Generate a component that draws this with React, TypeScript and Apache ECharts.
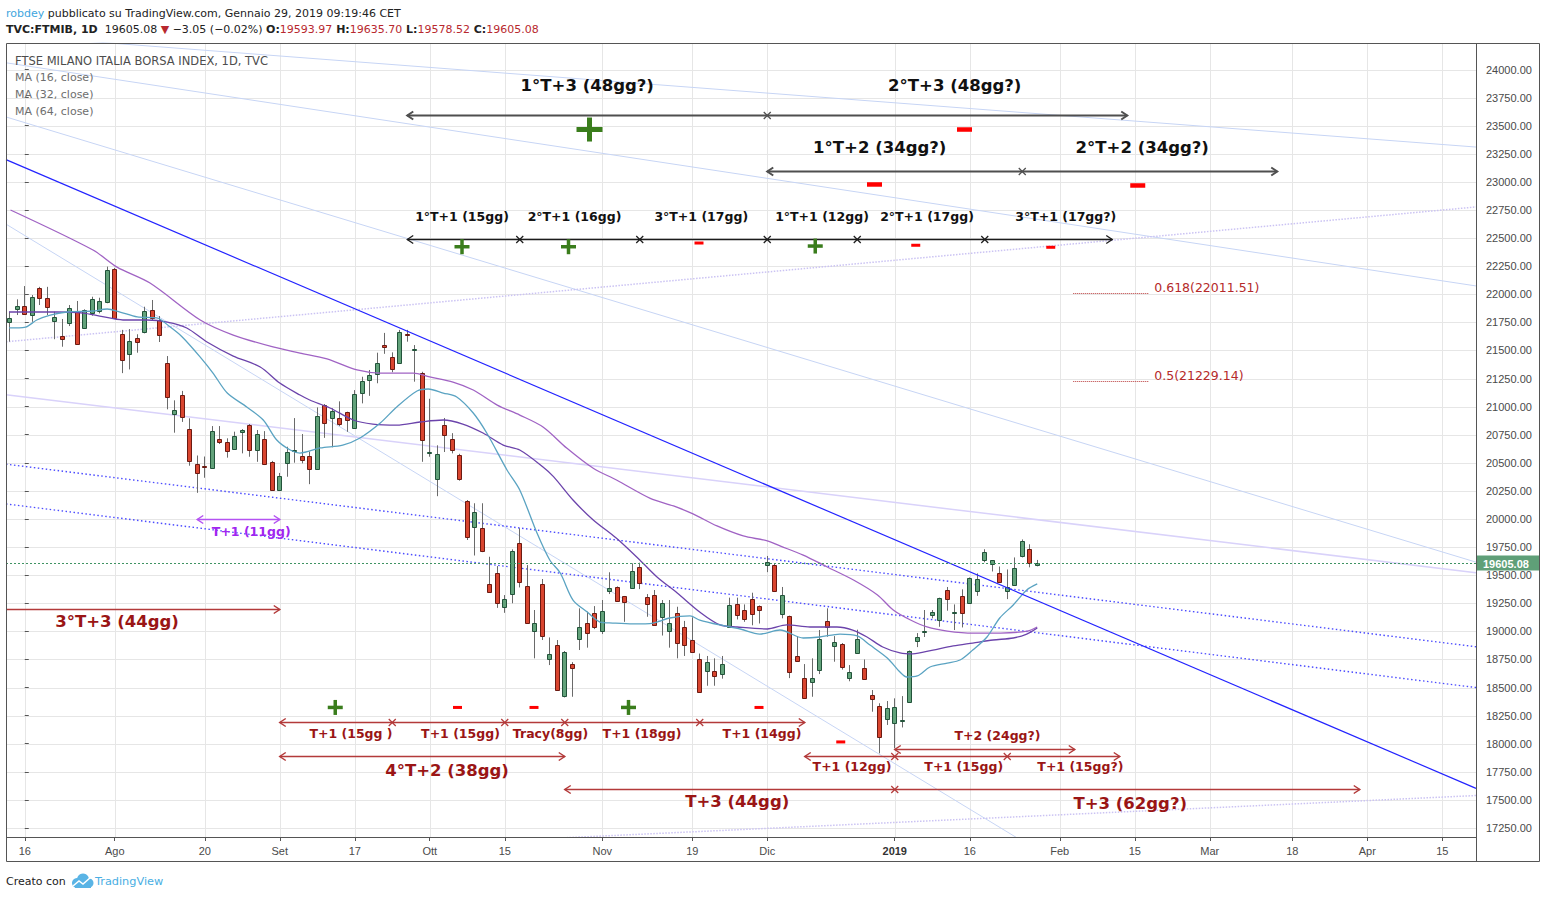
import React, { useEffect, useRef } from "react";
import * as echarts from "echarts";

// ================= DATA =================
// trading-day index: 0 = 16 Jul 2018 (one category per session, holidays skipped)
const FIRST_DAY = -2;
// [open, close, low, high]
const candles: number[][] = [
  [21750, 21786, 21578, 21845], [21871, 21892, 21815, 21955], [21892, 21821, 21815, 22073], [21813, 21973, 21755, 21993],
  [22057, 21969, 21904, 22066], [21964, 21884, 21815, 22066], [21759, 21795, 21600, 21845], [21626, 21600, 21533, 21780],
  [21741, 21875, 21717, 21904], [21842, 21555, 21550, 21940], [21702, 21857, 21691, 21866], [21830, 21955, 21809, 21978],
  [21854, 21940, 21830, 21969], [21928, 22213, 21920, 22246], [22222, 21785, 21780, 22235], [21644, 21412, 21298, 21683],
  [21470, 21586, 21331, 21690], [21608, 21573, 21480, 21644], [21661, 21848, 21652, 21889], [21857, 21785, 21769, 21949],
  [21769, 21635, 21575, 21806], [21385, 21082, 20976, 21450], [20937, 20967, 20768, 21056], [21101, 20905, 20864, 21140],
  [20797, 20518, 20474, 20896], [20487, 20407, 20233, 20565], [20470, 20460, 20367, 20556], [20451, 20780, 20445, 20827],
  [20709, 20687, 20667, 20827], [20683, 20603, 20546, 20718], [20620, 20738, 20615, 20777], [20777, 20792, 20584, 20800],
  [20836, 20611, 20554, 20845], [20611, 20753, 20509, 20792], [20716, 20487, 20480, 20782], [20505, 20262, 20250, 20517],
  [20262, 20387, 20250, 20410], [20501, 20594, 20376, 20643], [20605, 20614, 20501, 20898], [20561, 20522, 20495, 20756],
  [20561, 20442, 20310, 20600], [20442, 20913, 20440, 20993], [21011, 20851, 20722, 21023], [20896, 20958, 20638, 20985],
  [20896, 20843, 20827, 21047], [20950, 20878, 20776, 20955], [20812, 21109, 20809, 21147], [21118, 21225, 21029, 21266],
  [21234, 21279, 21096, 21326], [21288, 21386, 21208, 21480], [21548, 21535, 21470, 21656], [21439, 21332, 21306, 21483],
  [21385, 21661, 21380, 21683], [21650, 21640, 21578, 21683], [21505, 21515, 21222, 21548], [21297, 20706, 20509, 21310],
  [20587, 20597, 20554, 21070], [20354, 20577, 20203, 20656], [20839, 20750, 20596, 20899], [20710, 20611, 20584, 20764],
  [20568, 20359, 20341, 20580], [20163, 19842, 19813, 20169], [19928, 20061, 19675, 20140], [19916, 19711, 19705, 20140],
  [19419, 19348, 19345, 19664], [19516, 19250, 19209, 19581], [19214, 19285, 19165, 19323], [19329, 19715, 19250, 19730],
  [19785, 19443, 19391, 19918], [19404, 19077, 19070, 19590], [19006, 19072, 18760, 19190], [19419, 18961, 18923, 19466],
  [18757, 18796, 18700, 18946], [18876, 18475, 18470, 18923], [18426, 18813, 18412, 18825], [18714, 18675, 18418, 18726],
  [18928, 19035, 18834, 19205], [19071, 18988, 18855, 19175], [19160, 19041, 19020, 19225], [19006, 19178, 18976, 19279],
  [19362, 19383, 19332, 19526], [19391, 19273, 19262, 19400], [19311, 19264, 19085, 19315], [19383, 19537, 19380, 19605],
  [19570, 19428, 19376, 19611], [19303, 19246, 19130, 19332], [19321, 19054, 19050, 19368], [19124, 19252, 18963, 19279],
  [19006, 19071, 18855, 19279], [19160, 18899, 18760, 19219], [19035, 18875, 18781, 19093], [18919, 18813, 18808, 19125],
  [18750, 18462, 18453, 18803], [18643, 18723, 18516, 18781], [18643, 18600, 18516, 18760], [18619, 18707, 18579, 18781],
  [19035, 19231, 19030, 19300], [19240, 19142, 19106, 19300], [19187, 19106, 19085, 19240], [19285, 19151, 19054, 19344],
  [19222, 19187, 19070, 19231], [19594, 19621, 19527, 19671], [19594, 19355, 19350, 19600], [19155, 19323, 19116, 19395],
  [19137, 18637, 18584, 19140], [18779, 18734, 18730, 18958], [18584, 18404, 18400, 18709], [18549, 18584, 18418, 18760],
  [18656, 18932, 18620, 19012], [19092, 19041, 18952, 19205], [18866, 18901, 18730, 18958], [18892, 18686, 18660, 18896],
  [18584, 18637, 18556, 18700], [18805, 18932, 18800, 19015], [18670, 18572, 18570, 18750], [18431, 18395, 18285, 18478],
  [18333, 18057, 17915, 18360], [18218, 18315, 18167, 18380], [18183, 18324, 17959, 18404], [18200, 18210, 18145, 18424],
  [18369, 18823, 18365, 18830], [18914, 18950, 18860, 18985], [18990, 19007, 18950, 19190], [19142, 19169, 19116, 19190],
  [19098, 19294, 19041, 19300], [19365, 19285, 19184, 19395], [19165, 19172, 19012, 19240], [19311, 19160, 19035, 19374],
  [19250, 19472, 19245, 19480], [19355, 19463, 19316, 19516], [19632, 19704, 19615, 19731], [19599, 19632, 19533, 19635],
  [19516, 19436, 19430, 19577], [19355, 19399, 19287, 19551], [19409, 19560, 19405, 19658], [19668, 19800, 19658, 19818],
  [19731, 19608.13, 19570, 19775], [19593.97, 19605.08, 19578.52, 19635.7],
];

// moving averages: [day, value]
const ma16Points: number[][] = [
  [-2.1, 21700], [0.1, 21708], [1.6, 21771], [3.4, 21815], [5.6, 21842], [9.1, 21851], [11.0, 21869], [12.7, 21842],
  [15.0, 21798], [17.6, 21789], [19.4, 21708], [21.0, 21620], [23.4, 21441], [25.1, 21299], [27.0, 21121], [29.6, 20997],
  [31.8, 20881], [33.6, 20703], [35.4, 20614], [36.7, 20587], [39.4, 20632], [42.4, 20658], [44.7, 20721], [47.4, 20854],
  [49.6, 20997], [52.3, 21139], [53.8, 21157], [55.8, 21121], [57.6, 21086], [59.8, 20943], [61.6, 20765], [64.3, 20436],
  [66.0, 20258], [68.3, 19875], [70.0, 19635], [71.4, 19519], [73.1, 19279], [75.0, 19172], [76.7, 19083], [78.4, 19074],
  [81.1, 19066], [83.8, 19074], [86.0, 19119], [88.7, 19137], [90.0, 19101], [92.7, 19057], [95.4, 19021], [98.0, 18976],
  [100.7, 19012], [103.8, 18941], [106.0, 18950], [108.7, 18976], [111.0, 18959], [112.7, 18878], [115.0, 18763],
  [116.7, 18638], [117.6, 18594], [119.0, 18603], [120.7, 18683], [123.0, 18718], [124.7, 18745], [126.4, 18834],
  [128.3, 18950], [130.0, 19119], [131.8, 19235], [133.6, 19368], [135.0, 19422],
];
const ma32Points: number[][] = [
  [-2.1, 21842], [4.3, 21842], [7.8, 21833], [10.0, 21806], [13.1, 21771], [16.3, 21771], [19.0, 21753], [21.6, 21700],
  [24.3, 21575], [27.8, 21450], [31.4, 21353], [34.0, 21210], [36.7, 21103], [38.0, 21059], [40.7, 20988], [43.8, 20881],
  [46.4, 20845], [49.6, 20836], [52.7, 20863], [55.8, 20881], [58.4, 20845], [61.1, 20765], [63.8, 20658], [66.0, 20614],
  [69.1, 20463], [70.5, 20377], [73.1, 20169], [75.8, 19991], [78.9, 19828], [82.0, 19635], [84.3, 19484], [87.0, 19341],
  [90.0, 19172], [92.7, 19057], [95.0, 19039], [99.0, 19021], [101.6, 19057], [104.7, 19039], [108.3, 19039],
  [110.4, 19012], [112.3, 18950], [114.4, 18861], [116.7, 18808], [118.4, 18799], [121.1, 18834], [123.8, 18870],
  [126.4, 18896], [129.1, 18923], [131.8, 18941], [133.6, 18976], [135.0, 19030],
];
const ma64Points: number[][] = [
  [-1.9, 22750], [9.1, 22394], [12.3, 22242], [16.7, 22100], [23.4, 21771], [27.8, 21637], [33.1, 21531], [36.7, 21477],
  [40.3, 21424], [44.3, 21326], [47.4, 21299], [51.8, 21299], [54.0, 21264], [57.1, 21219], [59.8, 21148], [63.0, 21014],
  [66.0, 20925], [69.1, 20819], [72.3, 20629], [75.8, 20451], [78.9, 20347], [83.4, 20184], [86.5, 20116], [89.1, 20045],
  [92.3, 19938], [95.8, 19849], [98.9, 19807], [100.7, 19760], [103.8, 19679], [107.0, 19573], [110.5, 19457],
  [113.7, 19324], [115.8, 19190], [118.1, 19101], [120.3, 19039], [123.0, 19003], [126.5, 18985], [130.1, 18985],
  [133.7, 19003], [135.0, 19039],
];

const yTicks = [17250, 17500, 17750, 18000, 18250, 18500, 18750, 19000, 19250, 19500, 19750, 20000, 20250, 20500,
  20750, 21000, 21250, 21500, 21750, 22000, 22250, 22500, 22750, 23000, 23250, 23500, 23750, 24000];
const xTickDays = [0, 12, 24, 34, 44, 54, 64, 77, 89, 99, 116, 126, 138, 148, 158, 169, 179, 189];
const xTickLabels = ["16", "Ago", "20", "Set", "17", "Ott", "15", "Nov", "19", "Dic", "2019", "16", "Feb", "15", "Mar", "18", "Apr", "15"];
const lastPrice = 19605.08;

// drawn trend lines: endpoints [day, value]
const blueLine = [[-2.5, 23198], [193.5, 17603]];
const blueDotted = [
  [[-2.5, 20488], [193.5, 18863]],
  [[-2.5, 20134], [193.5, 18500]],
];
const lightBlueLines = [
  [[-2.5, 24306], [193.5, 23310]],
  [[-2.5, 24060], [193.5, 22074]],
  [[-2.5, 23578], [193.5, 19616]],
  [[-2.5, 22624], [193.5, 14683]],
];
const lavenderLine = [[-2.5, 21105], [193.5, 19521]];
const lavenderDotted = [
  [[-2.5, 21577], [193.5, 22777]],
  [[-2.5, 16933], [193.5, 17539]],
];

// fibonacci levels
const fibRatios = ["0.618", "0.5"];
const fibValues = [22011.51, 21229.14];
const fibDays = [139.8, 149.8];

// time-cycle arrows: first day = left head, last day = right head, others = cross marks
const arrowDrawings = [
  { kind: "gray", value: 23595, days: [51, 99, 147] },
  { kind: "gray", value: 23097, days: [99, 133, 167] },
  { kind: "black", value: 22494, days: [51, 66, 82, 99, 111, 128, 145] },
  { kind: "purple", value: 19997, days: [23, 34] },
  { kind: "red", value: 19196, days: [-10, 34] },
  { kind: "red", value: 18191, days: [34, 49, 64, 72, 90, 104] },
  { kind: "red", value: 17956, days: [116, 140] },
  { kind: "red", value: 17895, days: [34, 72] },
  { kind: "red", value: 17895, days: [104, 116, 131, 146] },
  { kind: "red", value: 17595, days: [72, 116, 178] },
];

const textNotes = [
  { text: "1°T+3 (48gg?)", day: 75.0, value: 23862, kind: "bigBlack" },
  { text: "2°T+3 (48gg?)", day: 124.0, value: 23862, kind: "bigBlack" },
  { text: "1°T+2 (34gg?)", day: 114.0, value: 23310, kind: "bigBlack" },
  { text: "2°T+2 (34gg?)", day: 149.0, value: 23306, kind: "bigBlack" },
  { text: "1°T+1 (15gg)", day: 58.3, value: 22692, kind: "smallBlack" },
  { text: "2°T+1 (16gg)", day: 73.3, value: 22692, kind: "smallBlack" },
  { text: "3°T+1 (17gg)", day: 90.2, value: 22692, kind: "smallBlack" },
  { text: "1°T+1 (12gg)", day: 106.3, value: 22692, kind: "smallBlack" },
  { text: "2°T+1 (17gg)", day: 120.3, value: 22692, kind: "smallBlack" },
  { text: "3°T+1 (17gg?)", day: 138.8, value: 22692, kind: "smallBlack" },
  { text: "T+1 (11gg)", day: 30.2, value: 19889, kind: "purple" },
  { text: "3°T+3 (44gg)", day: 12.3, value: 19088, kind: "bigRed" },
  { text: "T+1 (15gg )", day: 43.5, value: 18091, kind: "smallRed" },
  { text: "T+1 (15gg)", day: 58.1, value: 18091, kind: "smallRed" },
  { text: "Tracy(8gg)", day: 70.1, value: 18091, kind: "smallRed" },
  { text: "T+1 (18gg)", day: 82.3, value: 18091, kind: "smallRed" },
  { text: "T+1 (14gg)", day: 98.3, value: 18091, kind: "smallRed" },
  { text: "T+2 (24gg?)", day: 129.7, value: 18072, kind: "smallRed" },
  { text: "T+1 (12gg)", day: 110.3, value: 17796, kind: "smallRed" },
  { text: "T+1 (15gg)", day: 125.2, value: 17796, kind: "smallRed" },
  { text: "T+1 (15gg?)", day: 140.75, value: 17796, kind: "smallRed" },
  { text: "4°T+2 (38gg)", day: 56.3, value: 17766, kind: "bigRed" },
  { text: "T+3 (44gg)", day: 95.0, value: 17482, kind: "bigRed" },
  { text: "T+3 (62gg?)", day: 147.4, value: 17470, kind: "bigRed" },
];

const plusMarks = [
  { day: 75.3, value: 23466, size: "L" },
  { day: 58.3, value: 22423, size: "M" },
  { day: 72.5, value: 22423, size: "M" },
  { day: 105.4, value: 22429, size: "M" },
  { day: 41.4, value: 18323, size: "M" },
  { day: 80.5, value: 18323, size: "M" },
];
const minusMarks = [
  { day: 125.3, value: 23466, size: "L" },
  { day: 113.3, value: 22977, size: "L" },
  { day: 148.4, value: 22968, size: "L" },
  { day: 89.9, value: 22456, size: "S" },
  { day: 118.8, value: 22436, size: "S" },
  { day: 136.8, value: 22418, size: "S" },
  { day: 57.7, value: 18323, size: "S" },
  { day: 67.9, value: 18323, size: "S" },
  { day: 97.9, value: 18323, size: "S" },
  { day: 108.8, value: 18016, size: "S" },
];

// ================= STYLES =================
const SANS = "DejaVu Sans";
const AXISFONT = "Liberation Sans";
const arrowStyles: Record<string, { stroke: string; width: number }> = {
  gray: { stroke: "#4f4f4f", width: 2 },
  black: { stroke: "#1c1c1c", width: 1.3 },
  red: { stroke: "#b33a3a", width: 1.5 },
  purple: { stroke: "#b452f2", width: 1.5 },
};
const textStyles: Record<string, { fill: string; size: number; weight: string }> = {
  bigBlack: { fill: "#111111", size: 16.5, weight: "bold" },
  smallBlack: { fill: "#111111", size: 12.5, weight: "bold" },
  bigRed: { fill: "#9a1515", size: 16.5, weight: "bold" },
  smallRed: { fill: "#9a1515", size: 12.5, weight: "bold" },
  purple: { fill: "#a026f0", size: 12.5, weight: "bold" },
};
const plusSizes: Record<string, number[]> = { L: [26, 24, 5], M: [15, 15, 3.5] };
const minusSizes: Record<string, number[]> = { L: [15, 4.5], S: [9, 3] };

function buildOption() {
  const categories = Array.from({ length: 196 }, (_, k) => String(k + FIRST_DAY));
  const isTick = (index: number) => xTickDays.indexOf(index + FIRST_DAY) >= 0;

  const lineSeries = (data: number[][], color: string, width: number, type: any, z: number, smooth = 0) => ({
    type: "line",
    xAxisIndex: 1,
    yAxisIndex: 0,
    data,
    symbol: "none",
    showSymbol: false,
    silent: true,
    clip: true,
    smooth,
    z,
    lineStyle: { color, width, type },
  });

  const series: any[] = [];

  // horizontal grid lines
  series.push({
    type: "custom", xAxisIndex: 1, yAxisIndex: 0, z: 0, silent: true,
    data: yTicks.map((v) => [0, v]),
    renderItem: (params: any, api: any) => {
      const cs = params.coordSys;
      const y = Math.round(api.coord([0, api.value(1)])[1]) + 0.5;
      return { type: "line", shape: { x1: cs.x, y1: y, x2: cs.x + cs.width, y2: y }, style: { stroke: "#e6e6e6", lineWidth: 1 } };
    },
  });
  // vertical grid lines
  series.push({
    type: "custom", xAxisIndex: 1, yAxisIndex: 0, z: 0, silent: true,
    data: xTickDays.map((d) => [d, 20000]),
    renderItem: (params: any, api: any) => {
      const cs = params.coordSys;
      const x = Math.round(api.coord([api.value(0), 20000])[0]) + 0.5;
      return { type: "line", shape: { x1: x, y1: cs.y, x2: x, y2: cs.y + cs.height }, style: { stroke: "#e6e6e6", lineWidth: 1 } };
    },
  });

  // trend lines (behind candles)
  lightBlueLines.forEach((l) => series.push(lineSeries(l, "#c7d5f5", 1, "solid", 1)));
  series.push(lineSeries(lavenderLine, "#d9d2fa", 1.5, "solid", 1));
  lavenderDotted.forEach((l) => series.push(lineSeries(l, "#cbc3f3", 1.5, [1.5, 1.5], 1)));
  blueDotted.forEach((l) => series.push(lineSeries(l, "#4b4bff", 1.4, [1.5, 2.5], 1)));

  // candles
  series.push({
    type: "custom", xAxisIndex: 1, yAxisIndex: 0, z: 3, silent: true,
    data: candles.map((c, i) => [i + FIRST_DAY, c[0], c[1], c[2], c[3]]),
    encode: { x: 0, y: [1, 2, 3, 4] },
    renderItem: (params: any, api: any) => {
      const d = api.value(0);
      const o = api.value(1), c = api.value(2), l = api.value(3), h = api.value(4);
      const po = api.coord([d, o]);
      const x = Math.floor(po[0]) + 0.5;
      const yo = po[1];
      const yc = api.coord([d, c])[1];
      const yl = api.coord([d, l])[1];
      const yh = api.coord([d, h])[1];
      const top = Math.round(Math.min(yo, yc)) + 0.5;
      let bot = Math.round(Math.max(yo, yc)) + 0.5;
      if (bot - top < 1) bot = top + 1;
      const up = c >= o;
      return {
        type: "group",
        children: [
          { type: "line", shape: { x1: x, y1: yh, x2: x, y2: yl }, style: { stroke: "#6a6a6a", lineWidth: 1 } },
          {
            type: "rect",
            shape: { x: x - 2, y: top, width: 4, height: bot - top },
            style: { fill: up ? "#62a27a" : "#d9452f", stroke: up ? "#22533a" : "#6b1a12", lineWidth: 1 },
          },
        ],
      };
    },
  });

  // moving averages
  series.push(lineSeries(ma64Points, "#a063c4", 1.3, "solid", 4, 0.3));
  series.push(lineSeries(ma32Points, "#6b43ab", 1.3, "solid", 4, 0.3));
  series.push(lineSeries(ma16Points, "#5aa3c2", 1.3, "solid", 4, 0.3));

  // main blue trend line
  series.push(lineSeries(blueLine, "#2323ff", 1.2, "solid", 5));

  // last price line + tag
  series.push({
    type: "custom", xAxisIndex: 1, yAxisIndex: 0, z: 6, silent: true,
    data: [[193, lastPrice]],
    renderItem: (params: any, api: any) => {
      const cs = params.coordSys;
      const y = Math.round(api.coord([0, lastPrice])[1]) + 0.5;
      const right = cs.x + cs.width;
      return {
        type: "group",
        children: [
          { type: "line", shape: { x1: cs.x, y1: y, x2: right, y2: y }, style: { stroke: "#3f9363", lineWidth: 1, lineDash: [2, 2] } },
          { type: "rect", shape: { x: right + 1, y: y - 8, width: 62, height: 15 }, style: { fill: "#5f9f78" } },
          {
            type: "text", x: right + 7, y: y,
            style: { text: lastPrice.toFixed(2), fill: "#ffffff", fontSize: 11, fontWeight: "bold", fontFamily: AXISFONT, align: "left", verticalAlign: "middle" },
          },
        ],
      };
    },
  });

  // fibonacci levels
  series.push({
    type: "custom", xAxisIndex: 1, yAxisIndex: 0, z: 6, silent: true,
    data: fibValues.map((v) => [fibDays[0], v]),
    renderItem: (params: any, api: any) => {
      const i = params.dataIndex;
      const v = fibValues[i];
      const p0 = api.coord([fibDays[0], v]);
      const p1 = api.coord([fibDays[1], v]);
      const y = Math.round(p0[1]) + 0.5;
      return {
        type: "group",
        children: [
          { type: "line", shape: { x1: p0[0], y1: y, x2: p1[0], y2: y }, style: { stroke: "#b83a3a", lineWidth: 1, lineDash: [1, 1] } },
          {
            type: "text", x: p1[0] + 6, y: y - 6.5,
            style: { text: fibRatios[i] + "(" + v.toFixed(2) + ")", fill: "#b52a2a", fontSize: 12.5, fontFamily: SANS, align: "left", verticalAlign: "middle" },
          },
        ],
      };
    },
  });

  // arrows
  series.push({
    type: "custom", xAxisIndex: 1, yAxisIndex: 0, z: 7, silent: true, clip: true,
    data: arrowDrawings.map((a) => [a.days[0], a.value]),
    renderItem: (params: any, api: any) => {
      const a = arrowDrawings[params.dataIndex];
      const st = arrowStyles[a.kind];
      const y = Math.round(api.coord([0, a.value])[1]) + 0.5;
      const xs = a.days.map((d) => api.coord([d, a.value])[0]);
      const style = { stroke: st.stroke, lineWidth: st.width, fill: null };
      const children: any[] = [];
      const x0 = xs[0], x1 = xs[xs.length - 1];
      children.push({ type: "line", shape: { x1: x0, y1: y, x2: x1, y2: y }, style });
      children.push({ type: "polyline", shape: { points: [[x0 + 6, y - 4], [x0, y], [x0 + 6, y + 4]] }, style });
      children.push({ type: "polyline", shape: { points: [[x1 - 6, y - 4], [x1, y], [x1 - 6, y + 4]] }, style });
      for (let k = 1; k < xs.length - 1; k++) {
        const x = xs[k];
        children.push({ type: "line", shape: { x1: x - 3.5, y1: y - 3.5, x2: x + 3.5, y2: y + 3.5 }, style: { stroke: st.stroke, lineWidth: 1.2 } });
        children.push({ type: "line", shape: { x1: x - 3.5, y1: y + 3.5, x2: x + 3.5, y2: y - 3.5 }, style: { stroke: st.stroke, lineWidth: 1.2 } });
      }
      return { type: "group", children };
    },
  });

  // plus marks
  series.push({
    type: "custom", xAxisIndex: 1, yAxisIndex: 0, z: 7, silent: true,
    data: plusMarks.map((m) => [m.day, m.value]),
    renderItem: (params: any, api: any) => {
      const m = plusMarks[params.dataIndex];
      const [w, h, t] = plusSizes[m.size];
      const p = api.coord([m.day, m.value]);
      const fill = "#3a7d1c";
      return {
        type: "group",
        children: [
          { type: "rect", shape: { x: p[0] - w / 2, y: p[1] - t / 2, width: w, height: t }, style: { fill } },
          { type: "rect", shape: { x: p[0] - t / 2, y: p[1] - h / 2, width: t, height: h }, style: { fill } },
        ],
      };
    },
  });
  // minus marks
  series.push({
    type: "custom", xAxisIndex: 1, yAxisIndex: 0, z: 7, silent: true,
    data: minusMarks.map((m) => [m.day, m.value]),
    renderItem: (params: any, api: any) => {
      const m = minusMarks[params.dataIndex];
      const [w, h] = minusSizes[m.size];
      const p = api.coord([m.day, m.value]);
      return { type: "rect", shape: { x: p[0] - w / 2, y: p[1] - h / 2, width: w, height: h }, style: { fill: "#ff0000" } };
    },
  });
  // texts
  series.push({
    type: "custom", xAxisIndex: 1, yAxisIndex: 0, z: 8, silent: true,
    data: textNotes.map((n) => [n.day, n.value]),
    renderItem: (params: any, api: any) => {
      const n = textNotes[params.dataIndex];
      const st = textStyles[n.kind];
      const p = api.coord([n.day, n.value]);
      return {
        type: "text", x: p[0], y: p[1],
        style: { text: n.text, fill: st.fill, fontSize: st.size, fontWeight: st.weight, fontFamily: SANS, align: "center", verticalAlign: "middle" },
      };
    },
  });

  const headerRich = {
    u: { fill: "#3ea6de", fontSize: 11, fontFamily: SANS },
    n: { fill: "#222222", fontSize: 11, fontFamily: SANS },
    b: { fill: "#222222", fontSize: 11, fontFamily: SANS, fontWeight: "bold" },
    r: { fill: "#b8282e", fontSize: 11, fontFamily: SANS },
  };

  const graphic: any[] = [
    { type: "rect", z: 100, silent: true, shape: { x: 6.5, y: 43.5, width: 1533, height: 818 }, style: { fill: null, stroke: "#555555", lineWidth: 1 } },
    { type: "line", z: 100, silent: true, shape: { x1: 1476.5, y1: 43, x2: 1476.5, y2: 862 }, style: { stroke: "#555555", lineWidth: 1 } },
    { type: "line", z: 100, silent: true, shape: { x1: 6, y1: 837.5, x2: 1476, y2: 837.5 }, style: { stroke: "#555555", lineWidth: 1 } },
    {
      type: "text", z: 100, x: 6, y: 13,
      style: { text: "{u|robdey}{n| pubblicato su TradingView.com, Gennaio 29, 2019 09:19:46 CET}", rich: headerRich, verticalAlign: "middle" },
    },
    {
      type: "text", z: 100, x: 6, y: 29.5,
      style: {
        text: "{b|TVC:FTMIB, 1D}{n|  19605.08 }{r|▼}{n| −3.05 (−0.02%) }{b|O:}{r|19593.97}{b| H:}{r|19635.70}{b| L:}{r|19578.52}{b| C:}{r|19605.08}",
        rich: headerRich, verticalAlign: "middle",
      },
    },
    { type: "text", z: 100, x: 15, y: 61, style: { text: "FTSE MILANO ITALIA BORSA INDEX, 1D, TVC", fill: "#4d4d4d", fontSize: 11.5, fontFamily: SANS, verticalAlign: "middle" } },
    { type: "text", z: 100, x: 15, y: 77.5, style: { text: "MA (16, close)", fill: "#6e6e6e", fontSize: 11, fontFamily: SANS, verticalAlign: "middle" } },
    { type: "text", z: 100, x: 15, y: 94.5, style: { text: "MA (32, close)", fill: "#6e6e6e", fontSize: 11, fontFamily: SANS, verticalAlign: "middle" } },
    { type: "text", z: 100, x: 15, y: 111.5, style: { text: "MA (64, close)", fill: "#6e6e6e", fontSize: 11, fontFamily: SANS, verticalAlign: "middle" } },
    { type: "text", z: 100, x: 6, y: 881, style: { text: "Creato con", fill: "#222222", fontSize: 11, fontFamily: SANS, verticalAlign: "middle" } },
    {
      type: "group", z: 100, x: 70, y: 873,
      children: [
        { type: "circle", shape: { cx: 7, cy: 10, r: 5 }, style: { fill: "#5ab4e5" } },
        { type: "circle", shape: { cx: 13, cy: 6.5, r: 6 }, style: { fill: "#5ab4e5" } },
        { type: "circle", shape: { cx: 19, cy: 10, r: 4.5 }, style: { fill: "#5ab4e5" } },
        { type: "rect", shape: { x: 5, y: 9, width: 16, height: 6 }, style: { fill: "#5ab4e5" } },
        { type: "polyline", shape: { points: [[3, 13], [9, 8], [13, 11], [21, 4]] }, style: { stroke: "#ffffff", lineWidth: 1.5, fill: null } },
      ],
    },
    { type: "text", z: 100, x: 95, y: 881, style: { text: "TradingView", fill: "#49aee3", fontSize: 11.3, fontFamily: SANS, verticalAlign: "middle" } },
  ];

  return {
    animation: false,
    backgroundColor: "#ffffff",
    textStyle: { fontFamily: SANS },
    grid: { left: 6, top: 43, width: 1470, height: 794, containLabel: false, outerBoundsMode: "none" },
    xAxis: [
      {
        type: "category",
        data: categories,
        boundaryGap: true,
        axisLine: { show: false },
        axisTick: { show: true, interval: isTick, alignWithLabel: true, length: 4, lineStyle: { color: "#555555" } },
        axisLabel: {
          interval: isTick,
          margin: 8,
          color: "#4a4a4a",
          fontSize: 11,
          fontFamily: AXISFONT,
          formatter: (value: string) => {
            const i = xTickDays.indexOf(Number(value));
            const lab = i >= 0 ? xTickLabels[i] : "";
            return lab === "2019" ? "{b|2019}" : lab;
          },
          rich: { b: { fontWeight: "bold", fontSize: 11, fontFamily: AXISFONT, color: "#333333" } },
        },
        splitLine: { show: false },
      },
      { type: "value", min: -2.5, max: 193.5, show: false },
    ],
    yAxis: [
      {
        type: "value",
        position: "right",
        min: 17170,
        max: 24236,
        axisLine: { show: false },
        axisTick: { show: true, customValues: yTicks, length: 4, lineStyle: { color: "#555555" } },
        axisLabel: {
          customValues: yTicks,
          margin: 10,
          color: "#4a4a4a",
          fontSize: 11,
          fontFamily: AXISFONT,
          formatter: (v: number) => Number(v).toFixed(2),
        },
        splitLine: { show: false },
      },
    ],
    graphic,
    series,
  };
}

export default function App() {
  const ref = useRef<HTMLDivElement>(null);
  useEffect(() => {
    if (!ref.current) return;
    const chart = echarts.init(ref.current, null, { renderer: "svg" });
    chart.setOption(buildOption() as any);
    return () => chart.dispose();
  }, []);
  return (
    <div
      ref={ref}
      style={{ position: "absolute", left: 0, top: 0, width: 1547, height: 899, background: "#ffffff" }}
    />
  );
}
